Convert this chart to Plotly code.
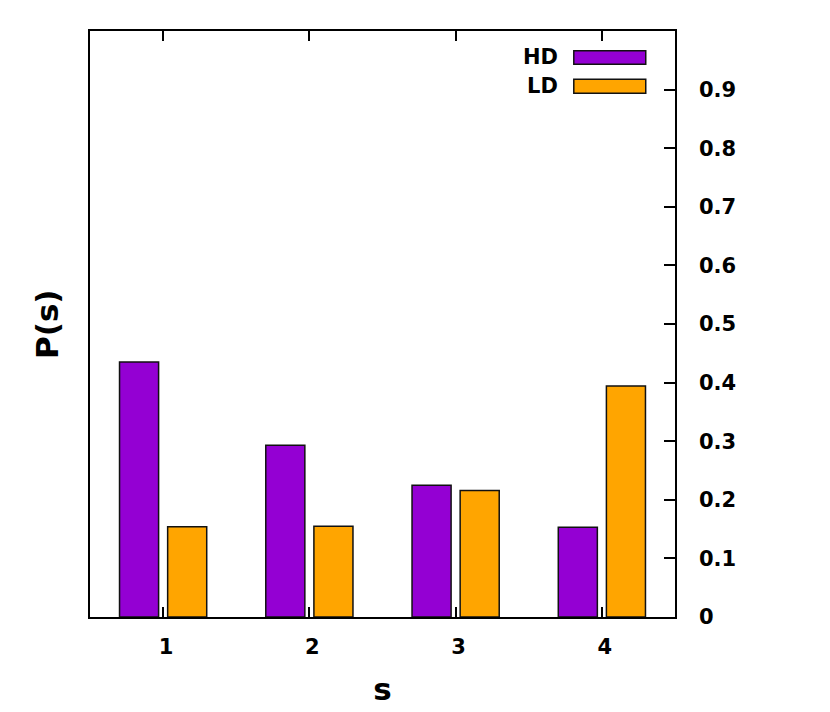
import plotly.graph_objects as go

s_values = [1, 2, 3, 4]
hd_probs = [0.435, 0.293, 0.225, 0.153]
ld_probs = [0.154, 0.155, 0.216, 0.394]
y_ticks = [0, 0.1, 0.2, 0.3, 0.4, 0.5, 0.6, 0.7, 0.8, 0.9]
y_tick_labels = ["0", "0.1", "0.2", "0.3", "0.4", "0.5", "0.6", "0.7", "0.8", "0.9"]
series_names = ["HD", "LD"]
series_colors = ["#9400D3", "#FFA500"]

font = "DejaVu Sans, sans-serif"

fig = go.Figure()
for name, vals, col in zip(series_names, [hd_probs, ld_probs], series_colors):
    fig.add_trace(go.Bar(x=s_values, y=vals, name=name,
                         marker=dict(color=col, line=dict(color="#111111", width=1.5)),
                         showlegend=False))

# legend drawn gnuplot-style: label on the left, colour box on the right
legend_rows = [(0.956, 0.9664, 0.9432), (0.906, 0.9176, 0.8937)]
for name, col, (ty, y0, y1) in zip(series_names, series_colors, legend_rows):
    fig.add_annotation(x=0.803, y=ty, xref="paper", yref="paper", text="<b>%s</b>" % name,
                       showarrow=False, xanchor="right", yanchor="middle",
                       font=dict(family=font, size=21, color="black"))
    fig.add_shape(type="rect", xref="paper", yref="paper", x0=0.827, x1=0.950, y0=y1, y1=y0,
                  fillcolor=col, line=dict(color="#111111", width=1.5))

# page body has an 8px margin, so the figure is a bit smaller than the window
fig.update_layout(
    width=822, height=704,
    margin=dict(l=82, r=155, t=23, b=95),
    paper_bgcolor="white", plot_bgcolor="white",
    barmode="group", bargap=0.342, bargroupgap=0.188,
    font=dict(family=font, size=21, color="black"),
)
fig.update_xaxes(
    range=[0.5, 4.5], tickvals=s_values, ticktext=["<b>%d</b>" % v for v in s_values],
    ticks="inside", ticklen=10, tickwidth=1.5, tickcolor="black",
    showline=True, linecolor="black", linewidth=1.5, mirror="ticks",
    showgrid=False, zeroline=False, ticklabelstandoff=10, ticklabelshift=3,
    title=dict(text="<b>s</b>", font=dict(size=31), standoff=20),
)
fig.update_yaxes(
    side="right", range=[0, 1], tickvals=y_ticks,
    ticktext=["<b>%s</b>" % t for t in y_tick_labels],
    ticks="inside", ticklen=11, tickwidth=1.5, tickcolor="black",
    showline=True, linecolor="black", linewidth=1.5, mirror=True,
    showgrid=False, zeroline=False, ticklabelstandoff=18,
    title=dict(text=""),
)
fig.add_annotation(x=-0.0735, y=0.5, xref="paper", yref="paper", text="<b>P(s)</b>",
                   showarrow=False, textangle=-90, xanchor="center", yanchor="middle",
                   font=dict(family=font, size=31, color="black"))

fig.write_html("out.html")
